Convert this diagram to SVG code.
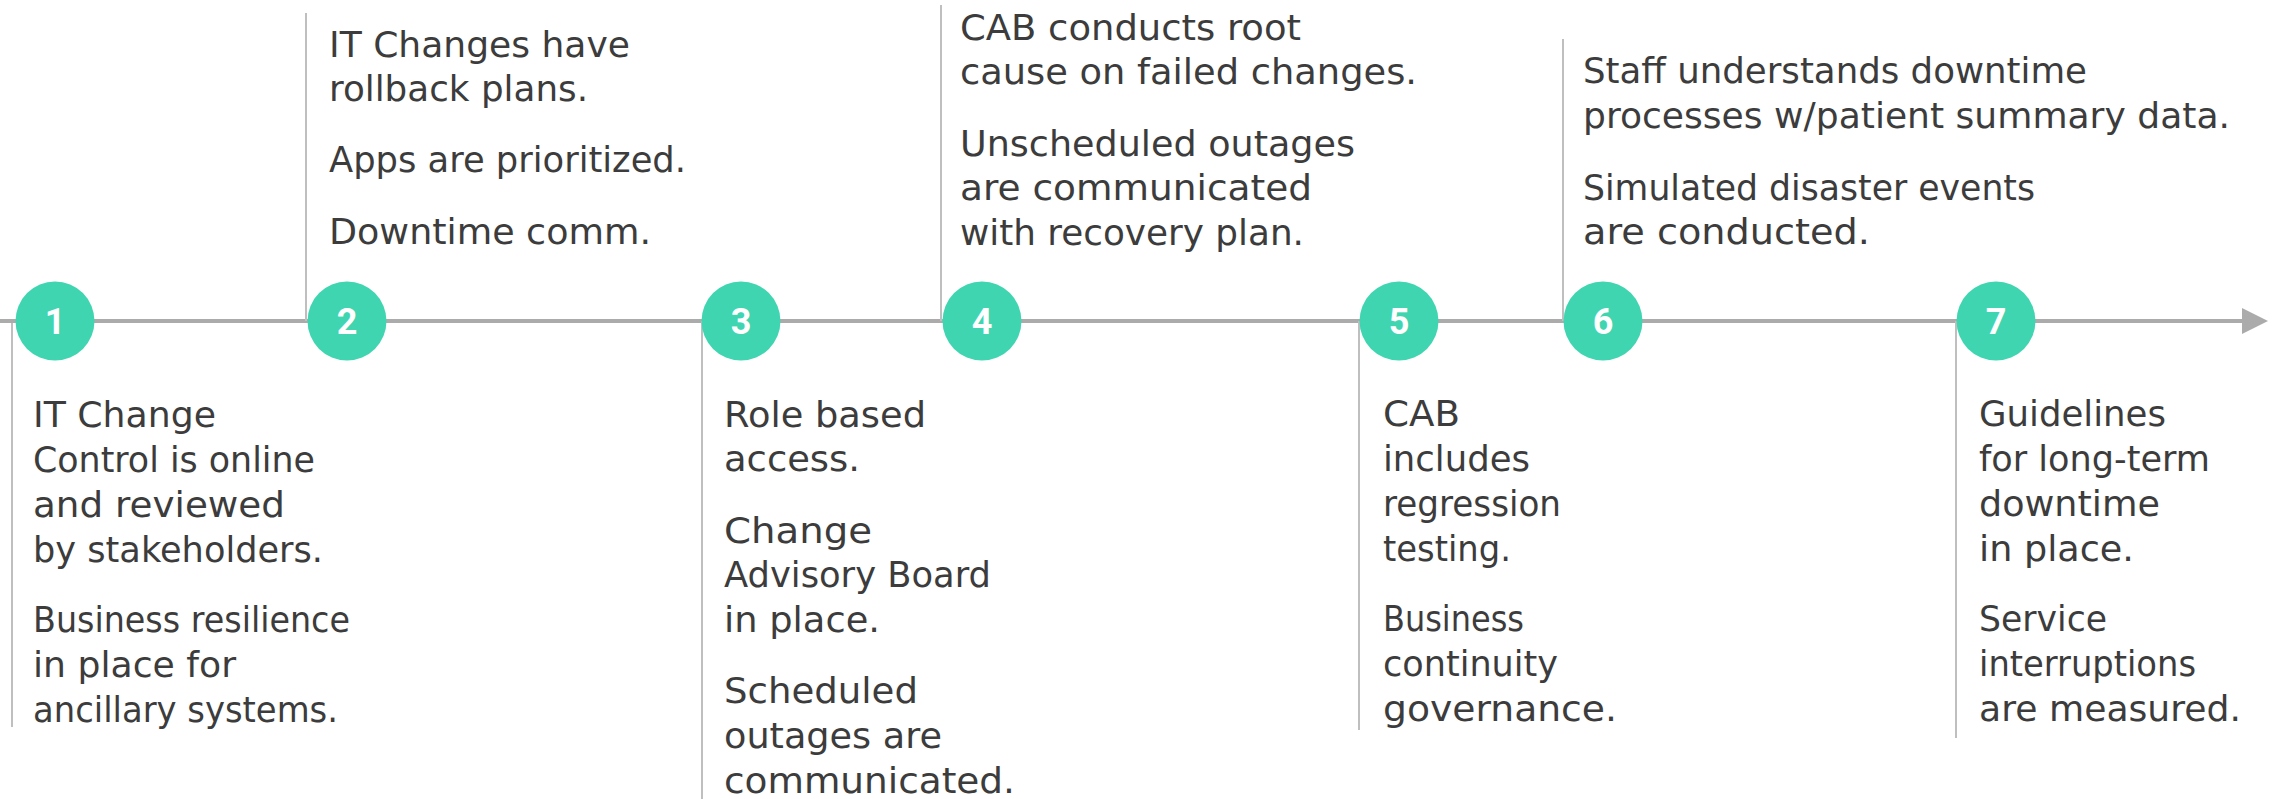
<svg xmlns="http://www.w3.org/2000/svg" width="2277" height="799" viewBox="0 0 2277 799">
<style>
.bg{fill:#ffffff}
.tl{stroke:#ababab;stroke-width:4;fill:none}
.ah{fill:#ababab}
.lead{stroke:#bfbfbf;stroke-width:2;fill:none}
.dot{fill:#3fd5b0}
.num{font-family:Roboto,"Open Sans","DejaVu Sans",sans-serif;font-weight:bold;font-size:36px;fill:#ffffff;text-anchor:middle}
.t{font-family:"DejaVu Sans","Liberation Sans",sans-serif;font-size:35px;fill:#3c3c3c}
</style>
<rect class="bg" x="0" y="0" width="2277" height="799"/>
<g id="connectors">
  <line class="tl" x1="0" y1="321" x2="2246" y2="321"/>
  <polygon class="ah" points="2242,308 2268,321 2242,334"/>
</g>
<g id="node1">
  <line class="lead" x1="12" y1="323" x2="12" y2="727"/>
  <circle class="dot" cx="55" cy="321" r="39.5"/>
  <text class="num" x="55" y="334">1</text>
  <g class="t">
    <text x="33" y="427" textLength="183" lengthAdjust="spacingAndGlyphs">IT Change</text>
    <text x="33" y="472" textLength="282" lengthAdjust="spacingAndGlyphs">Control is online</text>
    <text x="33" y="517" textLength="252" lengthAdjust="spacingAndGlyphs">and reviewed</text>
    <text x="33" y="562" textLength="290" lengthAdjust="spacingAndGlyphs">by stakeholders.</text>
    <text x="33" y="632" textLength="317" lengthAdjust="spacingAndGlyphs">Business resilience</text>
    <text x="33" y="677" textLength="203" lengthAdjust="spacingAndGlyphs">in place for</text>
    <text x="33" y="722" textLength="305" lengthAdjust="spacingAndGlyphs">ancillary systems.</text>
  </g>
</g>
<g id="node2">
  <line class="lead" x1="306" y1="13" x2="306" y2="321"/>
  <circle class="dot" cx="347" cy="321" r="39.5"/>
  <text class="num" x="347" y="334">2</text>
  <g class="t">
    <text x="329" y="57" textLength="301" lengthAdjust="spacingAndGlyphs">IT Changes have</text>
    <text x="329" y="101" textLength="259" lengthAdjust="spacingAndGlyphs">rollback plans.</text>
    <text x="329" y="172" textLength="357" lengthAdjust="spacingAndGlyphs">Apps are prioritized.</text>
    <text x="329" y="244" textLength="322" lengthAdjust="spacingAndGlyphs">Downtime comm.</text>
  </g>
</g>
<g id="node3">
  <line class="lead" x1="702" y1="321" x2="702" y2="799"/>
  <circle class="dot" cx="741" cy="321" r="39.5"/>
  <text class="num" x="741" y="334">3</text>
  <g class="t">
    <text x="724" y="427" textLength="202" lengthAdjust="spacingAndGlyphs">Role based</text>
    <text x="724" y="471" textLength="136" lengthAdjust="spacingAndGlyphs">access.</text>
    <text x="724" y="543" textLength="148" lengthAdjust="spacingAndGlyphs">Change</text>
    <text x="724" y="587" textLength="267" lengthAdjust="spacingAndGlyphs">Advisory Board</text>
    <text x="724" y="632" textLength="156" lengthAdjust="spacingAndGlyphs">in place.</text>
    <text x="724" y="703" textLength="194" lengthAdjust="spacingAndGlyphs">Scheduled</text>
    <text x="724" y="748" textLength="218" lengthAdjust="spacingAndGlyphs">outages are</text>
    <text x="724" y="793" textLength="291" lengthAdjust="spacingAndGlyphs">communicated.</text>
  </g>
</g>
<g id="node4">
  <line class="lead" x1="941" y1="5" x2="941" y2="321"/>
  <circle class="dot" cx="982" cy="321" r="39.5"/>
  <text class="num" x="982" y="334">4</text>
  <g class="t">
    <text x="960" y="40" textLength="341" lengthAdjust="spacingAndGlyphs">CAB conducts root</text>
    <text x="960" y="84" textLength="457" lengthAdjust="spacingAndGlyphs">cause on failed changes.</text>
    <text x="960" y="156" textLength="395" lengthAdjust="spacingAndGlyphs">Unscheduled outages</text>
    <text x="960" y="200" textLength="352" lengthAdjust="spacingAndGlyphs">are communicated</text>
    <text x="960" y="245" textLength="344" lengthAdjust="spacingAndGlyphs">with recovery plan.</text>
  </g>
</g>
<g id="node5">
  <line class="lead" x1="1359" y1="321" x2="1359" y2="730"/>
  <circle class="dot" cx="1399" cy="321" r="39.5"/>
  <text class="num" x="1399" y="334">5</text>
  <g class="t">
    <text x="1383" y="426" textLength="77" lengthAdjust="spacingAndGlyphs">CAB</text>
    <text x="1383" y="471" textLength="147" lengthAdjust="spacingAndGlyphs">includes</text>
    <text x="1383" y="516" textLength="178" lengthAdjust="spacingAndGlyphs">regression</text>
    <text x="1383" y="561" textLength="128" lengthAdjust="spacingAndGlyphs">testing.</text>
    <text x="1383" y="631" textLength="141" lengthAdjust="spacingAndGlyphs">Business</text>
    <text x="1383" y="676" textLength="175" lengthAdjust="spacingAndGlyphs">continuity</text>
    <text x="1383" y="721" textLength="234" lengthAdjust="spacingAndGlyphs">governance.</text>
  </g>
</g>
<g id="node6">
  <line class="lead" x1="1563" y1="39" x2="1563" y2="321"/>
  <circle class="dot" cx="1603" cy="321" r="39.5"/>
  <text class="num" x="1603" y="334">6</text>
  <g class="t">
    <text x="1583" y="83" textLength="504" lengthAdjust="spacingAndGlyphs">Staff understands downtime</text>
    <text x="1583" y="128" textLength="647" lengthAdjust="spacingAndGlyphs">processes w/patient summary data.</text>
    <text x="1583" y="200" textLength="452" lengthAdjust="spacingAndGlyphs">Simulated disaster events</text>
    <text x="1583" y="244" textLength="287" lengthAdjust="spacingAndGlyphs">are conducted.</text>
  </g>
</g>
<g id="node7">
  <line class="lead" x1="1956" y1="321" x2="1956" y2="738"/>
  <circle class="dot" cx="1996" cy="321" r="39.5"/>
  <text class="num" x="1996" y="334">7</text>
  <g class="t">
    <text x="1979" y="426" textLength="187" lengthAdjust="spacingAndGlyphs">Guidelines</text>
    <text x="1979" y="471" textLength="231" lengthAdjust="spacingAndGlyphs">for long-term</text>
    <text x="1979" y="516" textLength="181" lengthAdjust="spacingAndGlyphs">downtime</text>
    <text x="1979" y="561" textLength="155" lengthAdjust="spacingAndGlyphs">in place.</text>
    <text x="1979" y="631" textLength="128" lengthAdjust="spacingAndGlyphs">Service</text>
    <text x="1979" y="676" textLength="217" lengthAdjust="spacingAndGlyphs">interruptions</text>
    <text x="1979" y="721" textLength="262" lengthAdjust="spacingAndGlyphs">are measured.</text>
  </g>
</g>
</svg>
